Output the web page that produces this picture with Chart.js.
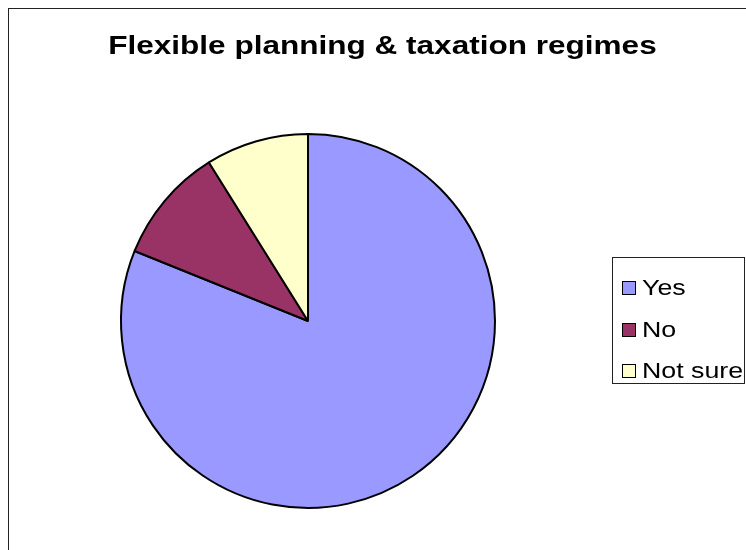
<!DOCTYPE html>
<html lang="en">
<head>
    <meta charset="UTF-8"/>
    <title>Flexible planning &amp; taxation regimes</title>
    <script src="https://cdn.jsdelivr.net/npm/chart.js"></script>
    <style>
        body {
            margin: 0;
            background: #fff;
            font-family: Arial, "Liberation Sans", sans-serif;
            overflow: hidden;
        }
        #frame {
            position: absolute;
            left: 8px;
            top: 8px;
            width: 800px;
            height: 600px;
            border: 1px solid #222;
        }
        #chart-box {
            position: absolute;
            left: 0;
            top: 0;
            width: 746px;
            height: 550px;
        }
        #titulo {
            position: absolute;
            left: 0;
            top: 28px;
            width: 765px;
            text-align: center;
            font-weight: bold;
            font-size: 26.5px;
            line-height: 34px;
            color: #000;
        }
        #titulo span {
            display: inline-block;
            transform: scaleX(1.19);
        }
        #legenda {
            position: absolute;
            left: 612px;
            top: 257px;
            width: 131px;
            height: 125px;
            border: 1px solid #222;
        }
        .item {
            position: absolute;
            left: 9px;
            height: 30px;
            font-size: 22.3px;
            line-height: 30px;
        }
        .item .cor {
            position: absolute;
            left: 0;
            top: 8px;
            width: 12px;
            height: 12px;
            border: 1px solid #000;
        }
        .item .txt {
            position: absolute;
            left: 20px;
            top: 0;
            white-space: nowrap;
            transform: scaleX(1.2);
            transform-origin: left center;
        }
    </style>
</head>
<body>
    <div id="frame"></div>
    <div id="chart-box"><canvas id="graficoPizza"></canvas></div>
    <div id="titulo"><span>Flexible planning &amp; taxation regimes</span></div>
    <div id="legenda"></div>

    <script>
        // respostas
        var categorias = ['Yes', 'No', 'Not sure'];
        var respostas = [73, 9, 8];
        var cores = ['#9999FF', '#993366', '#FFFFCC'];

        function montarLegenda() {
            var legenda = document.getElementById('legenda');
            for (var i = 0; i < categorias.length; i++) {
                var item = document.createElement('div');
                item.className = 'item';
                item.style.top = (15 + i * 41.5) + 'px';
                var cor = document.createElement('span');
                cor.className = 'cor';
                cor.style.background = cores[i];
                var txt = document.createElement('span');
                txt.className = 'txt';
                txt.textContent = categorias[i];
                item.appendChild(cor);
                item.appendChild(txt);
                legenda.appendChild(item);
            }
        }

        function desenharPizza() {
            var ctx = document.getElementById('graficoPizza').getContext('2d');
            new Chart(ctx, {
                type: 'pie',
                data: {
                    labels: categorias,
                    datasets: [{
                        data: respostas,
                        backgroundColor: cores,
                        borderColor: '#000',
                        borderWidth: 2,
                        hoverOffset: 0
                    }]
                },
                options: {
                    responsive: true,
                    maintainAspectRatio: false,
                    animation: false,
                    layout: {
                        padding: { left: 120, right: 250, top: 133, bottom: 41 }
                    },
                    plugins: {
                        legend: { display: false },
                        title: { display: false },
                        tooltip: { enabled: false }
                    }
                }
            });
        }

        montarLegenda();
        desenharPizza();
    </script>
</body>
</html>
